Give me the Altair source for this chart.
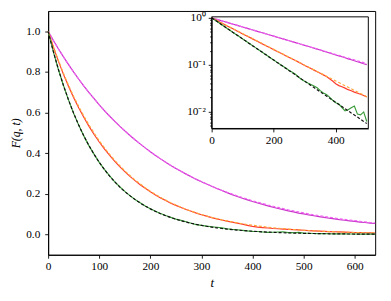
import altair as alt
import pandas as pd

t = list(range(0, 650, 10))

mag_data = [1.000, 0.956, 0.914, 0.874, 0.836, 0.799, 0.764, 0.730, 0.698, 0.668,
            0.638, 0.610, 0.583, 0.558, 0.533, 0.510, 0.487, 0.466, 0.446, 0.426,
            0.407, 0.389, 0.372, 0.356, 0.340, 0.325, 0.311, 0.297, 0.284, 0.271,
            0.259, 0.248, 0.237, 0.226, 0.216, 0.206, 0.196, 0.187, 0.178, 0.170,
            0.162, 0.155, 0.148, 0.141, 0.134, 0.128, 0.122, 0.116, 0.111, 0.105,
            0.101, 0.096, 0.092, 0.088, 0.084, 0.080, 0.077, 0.073, 0.070, 0.067,
            0.064, 0.061, 0.059, 0.056, 0.054]
mag_fit = [1.000, 0.956, 0.914, 0.874, 0.836, 0.799, 0.764, 0.730, 0.698, 0.668,
           0.638, 0.610, 0.583, 0.558, 0.533, 0.510, 0.488, 0.466, 0.446, 0.426,
           0.407, 0.390, 0.372, 0.356, 0.340, 0.326, 0.311, 0.298, 0.284, 0.272,
           0.260, 0.249, 0.238, 0.227, 0.217, 0.208, 0.199, 0.190, 0.182, 0.174,
           0.166, 0.159, 0.152, 0.145, 0.139, 0.133, 0.127, 0.121, 0.116, 0.111,
           0.106, 0.101, 0.097, 0.093, 0.089, 0.085, 0.081, 0.077, 0.074, 0.071,
           0.068, 0.065, 0.062, 0.059, 0.057]
red_data = [1.000, 0.924, 0.853, 0.788, 0.728, 0.673, 0.622, 0.576, 0.532, 0.492,
            0.455, 0.421, 0.390, 0.361, 0.334, 0.309, 0.286, 0.265, 0.245, 0.227,
            0.210, 0.194, 0.180, 0.167, 0.154, 0.143, 0.133, 0.123, 0.114, 0.105,
            0.097, 0.090, 0.083, 0.077, 0.071, 0.066, 0.0610, 0.0560, 0.0505, 0.0450,
            0.0395, 0.0360, 0.0340, 0.0318, 0.0295, 0.0280, 0.0262, 0.0248, 0.0236, 0.0222,
            0.0207, 0.0192, 0.0180, 0.0168, 0.0155, 0.0143, 0.0133, 0.0125, 0.0114, 0.0106,
            0.0098, 0.0091, 0.0085, 0.0078, 0.0072]
org_fit = [1.000, 0.926, 0.857, 0.793, 0.734, 0.679, 0.629, 0.582, 0.539, 0.499,
           0.461, 0.427, 0.395, 0.366, 0.339, 0.313, 0.290, 0.268, 0.249, 0.230,
           0.213, 0.197, 0.182, 0.169, 0.156, 0.145, 0.134, 0.124, 0.115, 0.106,
           0.098, 0.091, 0.084, 0.078, 0.072, 0.0667, 0.0617, 0.0571, 0.0529, 0.0489,
           0.0453, 0.0419, 0.0388, 0.0359, 0.0332, 0.0308, 0.0285, 0.0264, 0.0244, 0.0226,
           0.0209, 0.0193, 0.0179, 0.0166, 0.0153, 0.0142, 0.0131, 0.0122, 0.0112, 0.0104,
           0.0096, 0.0089, 0.0083, 0.0076, 0.0071]
grn_data = [1.000, 0.901, 0.812, 0.733, 0.661, 0.595, 0.537, 0.484, 0.436, 0.394,
            0.355, 0.320, 0.289, 0.260, 0.235, 0.212, 0.191, 0.172, 0.156, 0.140,
            0.127, 0.114, 0.103, 0.093, 0.084, 0.0755, 0.0690, 0.0628, 0.0550, 0.0485,
            0.0447, 0.0411, 0.0381, 0.0353, 0.0325, 0.0282, 0.0250, 0.0233, 0.0205, 0.0176,
            0.0155, 0.0146, 0.0123, 0.0104, 0.0110, 0.0122, 0.0132, 0.0089, 0.0086, 0.0099,
            0.0062, 0.0058, 0.0049, 0.0045, 0.0041, 0.0036, 0.0032, 0.0029, 0.0026, 0.0024,
            0.0021, 0.0020, 0.0017, 0.0016, 0.0014]
grn_fit = [1.000, 0.902, 0.813, 0.733, 0.661, 0.596, 0.537, 0.484, 0.437, 0.394,
           0.355, 0.320, 0.288, 0.260, 0.234, 0.211, 0.191, 0.172, 0.155, 0.140,
           0.126, 0.1135, 0.1023, 0.0923, 0.0832, 0.0750, 0.0676, 0.0610, 0.0550, 0.0495,
           0.0447, 0.0403, 0.0363, 0.0327, 0.0295, 0.0266, 0.0240, 0.0216, 0.0195, 0.0176,
           0.0158, 0.0143, 0.0129, 0.0116, 0.0105, 0.0094, 0.0085, 0.0077, 0.0069, 0.0062,
           0.0056, 0.0051, 0.0046, 0.0041, 0.0037, 0.0033, 0.0030, 0.0027, 0.0025, 0.0022,
           0.0020, 0.0018, 0.0016, 0.0015, 0.0013]

main_xticks = [0, 100, 200, 300, 400, 500, 600]
main_yticks = [0.0, 0.2, 0.4, 0.6, 0.8, 1.0]
inset_xticks = [0, 200, 400]
inset_yticks = [0.005, 0.006, 0.007, 0.008, 0.009,
                0.01, 0.02, 0.03, 0.04, 0.05, 0.06, 0.07, 0.08, 0.09,
                0.1, 0.2, 0.3, 0.4, 0.5, 0.6, 0.7, 0.8, 0.9, 1.0]

series = [
    ("mag_data", mag_data, "#c736c9", None),
    ("mag_fit", mag_fit, "#f160f1", [3, 2]),
    ("red_data", red_data, "#ff3a2e", None),
    ("org_fit", org_fit, "#ffa83c", [3, 2]),
    ("grn_data", grn_data, "#3a9c3a", None),
    ("grn_fit", grn_fit, "#111111", [3, 2]),
]

FONT = "Liberation Serif"

x_main = alt.X("t:Q",
               scale=alt.Scale(domain=[0, 640], nice=False, zero=False),
               axis=alt.Axis(values=main_xticks, title="t", titleFontStyle="italic",
                             titleFontWeight="normal", titleFontSize=13, titlePadding=4,
                             labelFlush=False, grid=False, tickSize=3.5, labelPadding=3))
y_main = alt.Y("F:Q",
               scale=alt.Scale(domain=[-0.1, 1.1], nice=False, zero=False),
               axis=alt.Axis(values=main_yticks, format=".1f", title="F(q, t)",
                             titleFontStyle="italic", titleFontWeight="normal",
                             titleFontSize=12, titlePadding=3, grid=False,
                             tickSize=3.5, labelPadding=5))

pow_test = "datum.value == 1 || datum.value == 0.1 || datum.value == 0.01"
x_in = alt.X("t:Q",
             scale=alt.Scale(domain=[0, 505], range=[167, 327], nice=False, zero=False),
             axis=alt.Axis(orient="bottom", offset=-129, values=inset_xticks, title=None,
                           labelFlush=False, grid=False, tickSize=3.5, labelPadding=3,
                           zindex=2))
y_in = alt.Y("F:Q",
             scale=alt.Scale(type="log", domain=[0.0044, 1.05], range=[120, 6], nice=False),
             axis=alt.Axis(orient="left", offset=-167, values=inset_yticks, title=None,
                           grid=False, labelPadding=3, zindex=2,
                           labelExpr="datum.value == 1 ? '10⁰' : (datum.value == 0.1 ? '10⁻¹' : (datum.value == 0.01 ? '10⁻²' : ''))",
                           tickSize={"condition": {"test": pow_test, "value": 3.5}, "value": 2}))

main_layers = []
inset_layers = []
bg = alt.Chart(pd.DataFrame({"a": [0]})).mark_rect(
    fill="white", stroke="black", strokeWidth=1
).encode(x=alt.value(167), x2=alt.value(327), y=alt.value(6), y2=alt.value(120))
inset_layers.append(bg)

for name, vals, color, dash in series:
    d = pd.DataFrame({"t": t, "F": vals})
    kw = dict(color=color, strokeWidth=1.2)
    if dash:
        kw["strokeDash"] = dash
    main_layers.append(alt.Chart(d).mark_line(**kw).encode(x=x_main, y=y_main))
    di = d[d.t <= 500]
    inset_layers.append(alt.Chart(di).mark_line(**kw).encode(x=x_in, y=y_in))

main = alt.layer(*main_layers)
inset = alt.layer(*inset_layers)

chart = alt.layer(main, inset).resolve_scale(x="independent", y="independent").properties(
    width=334, height=249,
    autosize=alt.AutoSizeParams(type="none"),
    padding={"left": 41, "top": 0, "right": 8, "bottom": 36},
).configure_view(stroke="black", strokeWidth=1).configure_axis(
    labelFont=FONT, titleFont=FONT, labelFontSize=11.5, labelColor="black",
    titleColor="black", domainColor="black", tickColor="black", domainWidth=1,
    tickWidth=0.9,
)

chart.save("out.html", embed_options={"renderer": "svg", "actions": False})
